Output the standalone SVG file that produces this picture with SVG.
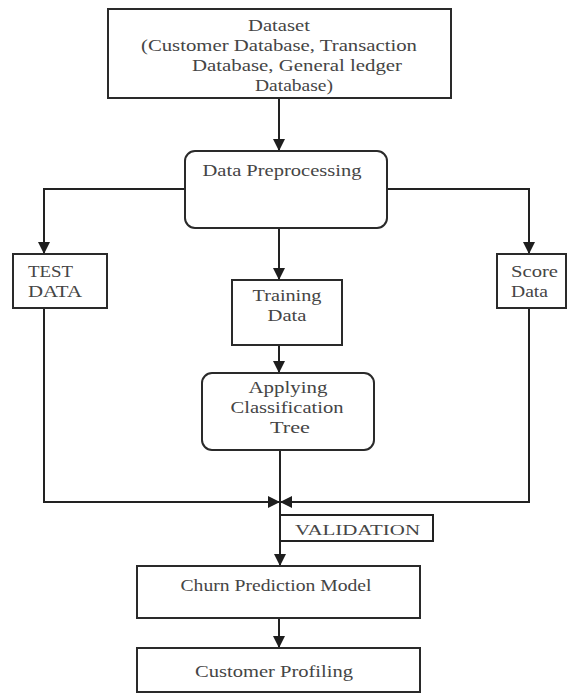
<svg xmlns="http://www.w3.org/2000/svg" width="573" height="696" viewBox="0 0 573 696">
<defs>
<marker id="ah" viewBox="0 0 12 12" refX="12" refY="6" markerWidth="12" markerHeight="12" markerUnits="userSpaceOnUse" orient="auto">
<path d="M0,0 L12,6 L0,12 Z" fill="#1e1e1e"/>
</marker>
<style>
.box{fill:#fff;stroke:#2a2a2a;stroke-width:2}
.t{font-family:"Liberation Serif","Times New Roman",serif;font-size:17px;fill:#454545}
.c{text-anchor:middle}
.ln{fill:none;stroke:#222;stroke-width:2}
</style>
</defs>
<rect width="573" height="696" fill="#fff"/>
<g id="connectors">
<path class="ln" d="M279,98 V151" marker-end="url(#ah)"/>
<path class="ln" d="M185,189 H44 V254" marker-end="url(#ah)"/>
<path class="ln" d="M387,189 H529 V254" marker-end="url(#ah)"/>
<path class="ln" d="M279,228 V280" marker-end="url(#ah)"/>
<path class="ln" d="M279,345 V373" marker-end="url(#ah)"/>
<path class="ln" d="M44,308 V502 H280" marker-end="url(#ah)"/>
<path class="ln" d="M529,308 V502 H280" marker-end="url(#ah)"/>
<path class="ln" d="M280,450 V566" marker-end="url(#ah)"/>
<path class="ln" d="M279,618 V648" marker-end="url(#ah)"/>
</g>
<g id="dataset">
<rect class="box" x="108" y="9" width="343" height="89"/>
<text class="t c" x="279" y="31" textLength="62" lengthAdjust="spacingAndGlyphs">Dataset</text>
<text class="t c" x="279" y="51" textLength="276" lengthAdjust="spacingAndGlyphs">(Customer Database, Transaction</text>
<text class="t c" x="297" y="71" textLength="210" lengthAdjust="spacingAndGlyphs">Database, General ledger</text>
<text class="t c" x="294" y="91" textLength="78" lengthAdjust="spacingAndGlyphs">Database)</text>
</g>
<g id="preprocessing">
<rect class="box" x="185" y="151" width="202" height="77" rx="10"/>
<text class="t c" x="282" y="176" textLength="159" lengthAdjust="spacingAndGlyphs">Data Preprocessing</text>
</g>
<g id="test">
<rect class="box" x="13" y="254" width="94" height="54"/>
<text class="t" x="28" y="277" textLength="45" lengthAdjust="spacingAndGlyphs">TEST</text>
<text class="t" x="28" y="297" textLength="54" lengthAdjust="spacingAndGlyphs">DATA</text>
</g>
<g id="score">
<rect class="box" x="497" y="254" width="69" height="54"/>
<text class="t" x="511" y="277" textLength="47" lengthAdjust="spacingAndGlyphs">Score</text>
<text class="t" x="511" y="297" textLength="37" lengthAdjust="spacingAndGlyphs">Data</text>
</g>
<g id="training">
<rect class="box" x="232" y="280" width="110" height="65"/>
<text class="t c" x="287" y="301" textLength="69" lengthAdjust="spacingAndGlyphs">Training</text>
<text class="t c" x="287" y="321" textLength="39" lengthAdjust="spacingAndGlyphs">Data</text>
</g>
<g id="classification">
<rect class="box" x="202" y="373" width="172" height="77" rx="10"/>
<text class="t c" x="288" y="393" textLength="79" lengthAdjust="spacingAndGlyphs">Applying</text>
<text class="t c" x="287" y="413" textLength="113" lengthAdjust="spacingAndGlyphs">Classification</text>
<text class="t c" x="290" y="433" textLength="40" lengthAdjust="spacingAndGlyphs">Tree</text>
</g>
<g id="validation">
<path class="ln" d="M280,515 H433 V541 H280"/>
<text class="t" x="295" y="535" style="font-size:15px" textLength="125" lengthAdjust="spacingAndGlyphs">VALIDATION</text>
</g>
<g id="churn">
<rect class="box" x="137" y="566" width="283" height="52"/>
<text class="t c" x="276" y="591" textLength="191" lengthAdjust="spacingAndGlyphs">Churn Prediction Model</text>
</g>
<g id="profiling">
<rect class="box" x="137" y="648" width="283" height="44"/>
<text class="t c" x="274" y="677" textLength="158" lengthAdjust="spacingAndGlyphs">Customer Profiling</text>
</g>
</svg>
